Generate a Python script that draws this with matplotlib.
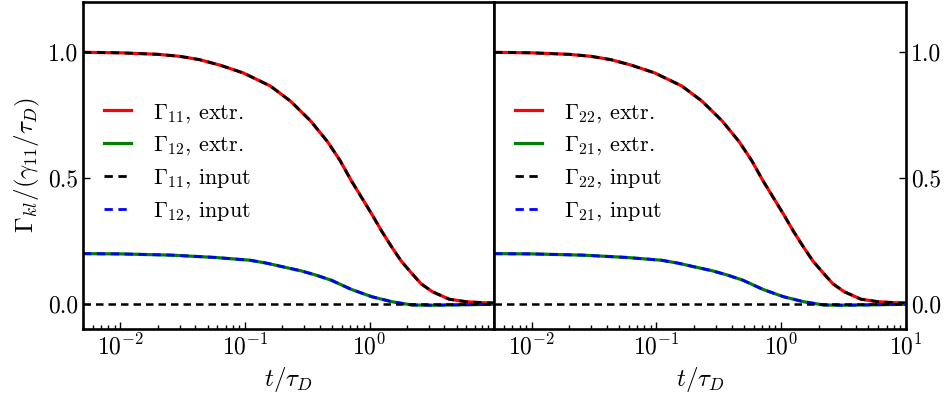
import matplotlib
matplotlib.use("Agg")
import matplotlib.pyplot as plt

plt.rcParams['font.family'] = 'serif'
plt.rcParams['font.serif'] = ['cmr10']
plt.rcParams['mathtext.fontset'] = 'cm'
plt.rcParams['axes.unicode_minus'] = False
plt.rcParams['axes.formatter.use_mathtext'] = False
plt.rcParams['axes.linewidth'] = 1.9

# values
t11 = [0.005, 0.01, 0.02, 0.03, 0.043, 0.063, 0.097, 0.16, 0.232, 0.337, 0.46, 0.58,
       0.714, 1.04, 1.25, 1.51, 1.8, 2.19, 2.6, 3.19, 4.36, 5.96, 8.1, 10.0]
g11 = [1.0, 0.998, 0.992, 0.984, 0.971, 0.949, 0.918, 0.866, 0.806, 0.727, 0.645, 0.57,
       0.49, 0.358, 0.29, 0.226, 0.17, 0.121, 0.08, 0.049, 0.019, 0.009, 0.005, 0.004]
t12 = [0.005, 0.01, 0.026, 0.057, 0.109, 0.15, 0.204, 0.28, 0.37, 0.49, 0.714, 1.04,
       1.51, 2.19, 3.19, 5.96, 10.0]
g12 = [0.2, 0.199, 0.194, 0.185, 0.174, 0.162, 0.147, 0.132, 0.115, 0.095, 0.058, 0.029,
       0.009, -0.004, -0.005, -0.003, -0.001]
g22 = list(g11)
g21 = list(g12)

fig = plt.figure(figsize=(9.45, 3.98), dpi=100)
ax1 = fig.add_axes([0.0878, 0.173, 0.435, 0.822])
ax2 = fig.add_axes([0.5228, 0.173, 0.4359, 0.822])

panels = [
    (ax1, g11, g12, '11', '12'),
    (ax2, g22, g21, '22', '21'),
]
for ax, gd, go, kd, ko in panels:
    ax.plot(t11, gd, color='red', lw=2.3, label=r'$\Gamma_{%s}$, extr.' % kd)
    ax.plot(t12, go, color='green', lw=2.3, label=r'$\Gamma_{%s}$, extr.' % ko)
    ax.plot(t11, gd, color='black', lw=2, ls='--', dashes=(3, 2), label=r'$\Gamma_{%s}$, input' % kd)
    ax.plot(t12, go, color='blue', lw=2, ls='--', dashes=(3, 2), label=r'$\Gamma_{%s}$, input' % ko)
    ax.axhline(0.0, color='black', lw=1.8, ls='--', dashes=(3, 2))
    ax.set_xscale('log')
    ax.set_xlim(5e-3, 10)
    ax.set_ylim(-0.1, 1.2)
    ax.set_yticks([0.0, 0.5, 1.0])
    ax.set_xlabel(r'$t/\tau_D$', fontsize=18)
    ax.tick_params(which='both', direction='in', labelsize=17)
    ax.tick_params(which='major', length=5, width=1)
    ax.tick_params(which='minor', length=3, width=1)
    ax.legend(loc='center left', bbox_to_anchor=(0.03, 0.51), frameon=False,
              fontsize=16, handlelength=1.2, handletextpad=1.0,
              labelspacing=0.45, borderaxespad=0)

ax1.set_xticks([1e-2, 1e-1, 1e0])
ax1.set_ylabel(r'$\Gamma_{kl}/(\gamma_{11}/\tau_D)$', fontsize=18)
ax2.yaxis.tick_right()
ax2.yaxis.set_label_position('right')

fig.savefig('out.png', dpi=100)
